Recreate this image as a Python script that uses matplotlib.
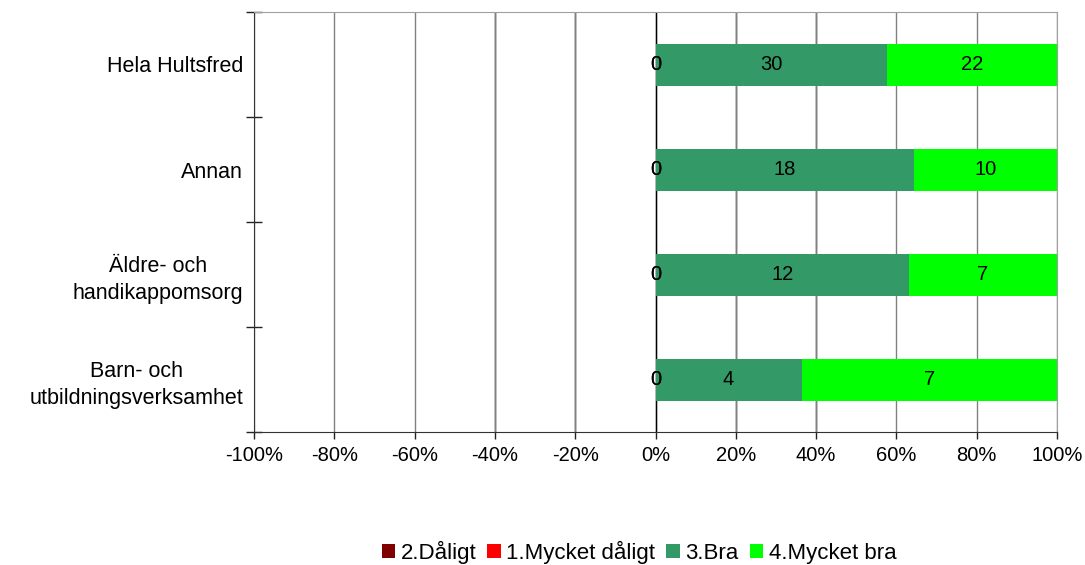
import matplotlib
matplotlib.use("Agg")
import matplotlib.pyplot as plt
import numpy as np

plt.rcParams['font.family'] = ['Liberation Sans', 'DejaVu Sans']

# categories, bottom to top
categories = ["Barn- och\nutbildningsverksamhet", "Äldre- och\nhandikappomsorg",
              "Annan", "Hela Hultsfred"]
daligt = np.array([0, 0, 0, 0])
mycket_daligt = np.array([0, 0, 0, 0])
bra = np.array([4, 12, 18, 30])
mycket_bra = np.array([7, 7, 10, 22])

ticks = [-100, -80, -60, -40, -20, 0, 20, 40, 60, 80, 100]
tick_labels = [f"{t}%" for t in ticks]

total = daligt + mycket_daligt + bra + mycket_bra
p_dal = daligt / total * 100
p_mdal = mycket_daligt / total * 100
p_bra = bra / total * 100
p_mbra = mycket_bra / total * 100

fig = plt.figure(figsize=(10.85, 5.65), dpi=100)
ax = fig.add_axes([254 / 1085, 1 - 432 / 565, (1057 - 254) / 1085, (432 - 12) / 565])

y = np.arange(len(categories))
h = 0.4
b1 = ax.barh(y, -p_dal, h, color="#800000", label="2.Dåligt", zorder=3)
b2 = ax.barh(y, -p_mdal, h, left=-p_dal, color="#FF0000", label="1.Mycket dåligt", zorder=3)
b3 = ax.barh(y, p_bra, h, color="#339966", label="3.Bra", zorder=3)
b4 = ax.barh(y, p_mbra, h, left=p_bra, color="#00FF00", label="4.Mycket bra", zorder=3)

for bars, vals in [(b1, daligt), (b2, mycket_daligt), (b3, bra), (b4, mycket_bra)]:
    ax.bar_label(bars, labels=[str(v) for v in vals], label_type="center",
                 fontsize=14.5, color="black", zorder=4)

ax.set_xlim(-100, 100)
ax.set_ylim(-0.5, len(categories) - 0.5)
ax.set_xticks(ticks)
ax.set_xticklabels(tick_labels, fontsize=14.5)
ax.set_yticks(y)
ax.set_yticklabels(categories, fontsize=15.5, multialignment="center", linespacing=1.35)
ax.set_yticks(np.arange(-0.5, len(categories)), minor=True)
ax.tick_params(axis="y", which="major", length=0, pad=8)
ax.tick_params(axis="y", which="minor", length=11, direction="inout", width=1,
               color="#222222")
ax.tick_params(axis="x", length=5, direction="out", width=1, pad=5, color="#222222")

ax.grid(axis="x", color="#808080", linewidth=1, zorder=0)
ax.axvline(0, color="black", linewidth=1, zorder=2)
for t in [-40, -20, 20, 40]:
    ax.axvline(t, color="#222222", linewidth=1, zorder=1)

for side in ["top", "right"]:
    ax.spines[side].set_color("#a0a0a0")
ax.spines["left"].set_color("#333333")
ax.spines["bottom"].set_color("#333333")

handles, labels = ax.get_legend_handles_labels()
fig.legend(handles, labels, loc="center", bbox_to_anchor=(639 / 1085, 1 - 552 / 565),
           ncol=4, frameon=False, fontsize=16, handlelength=0.6, handleheight=0.6,
           handletextpad=0.25, columnspacing=0.5, borderpad=0)

fig.savefig("out.png", dpi=100)
